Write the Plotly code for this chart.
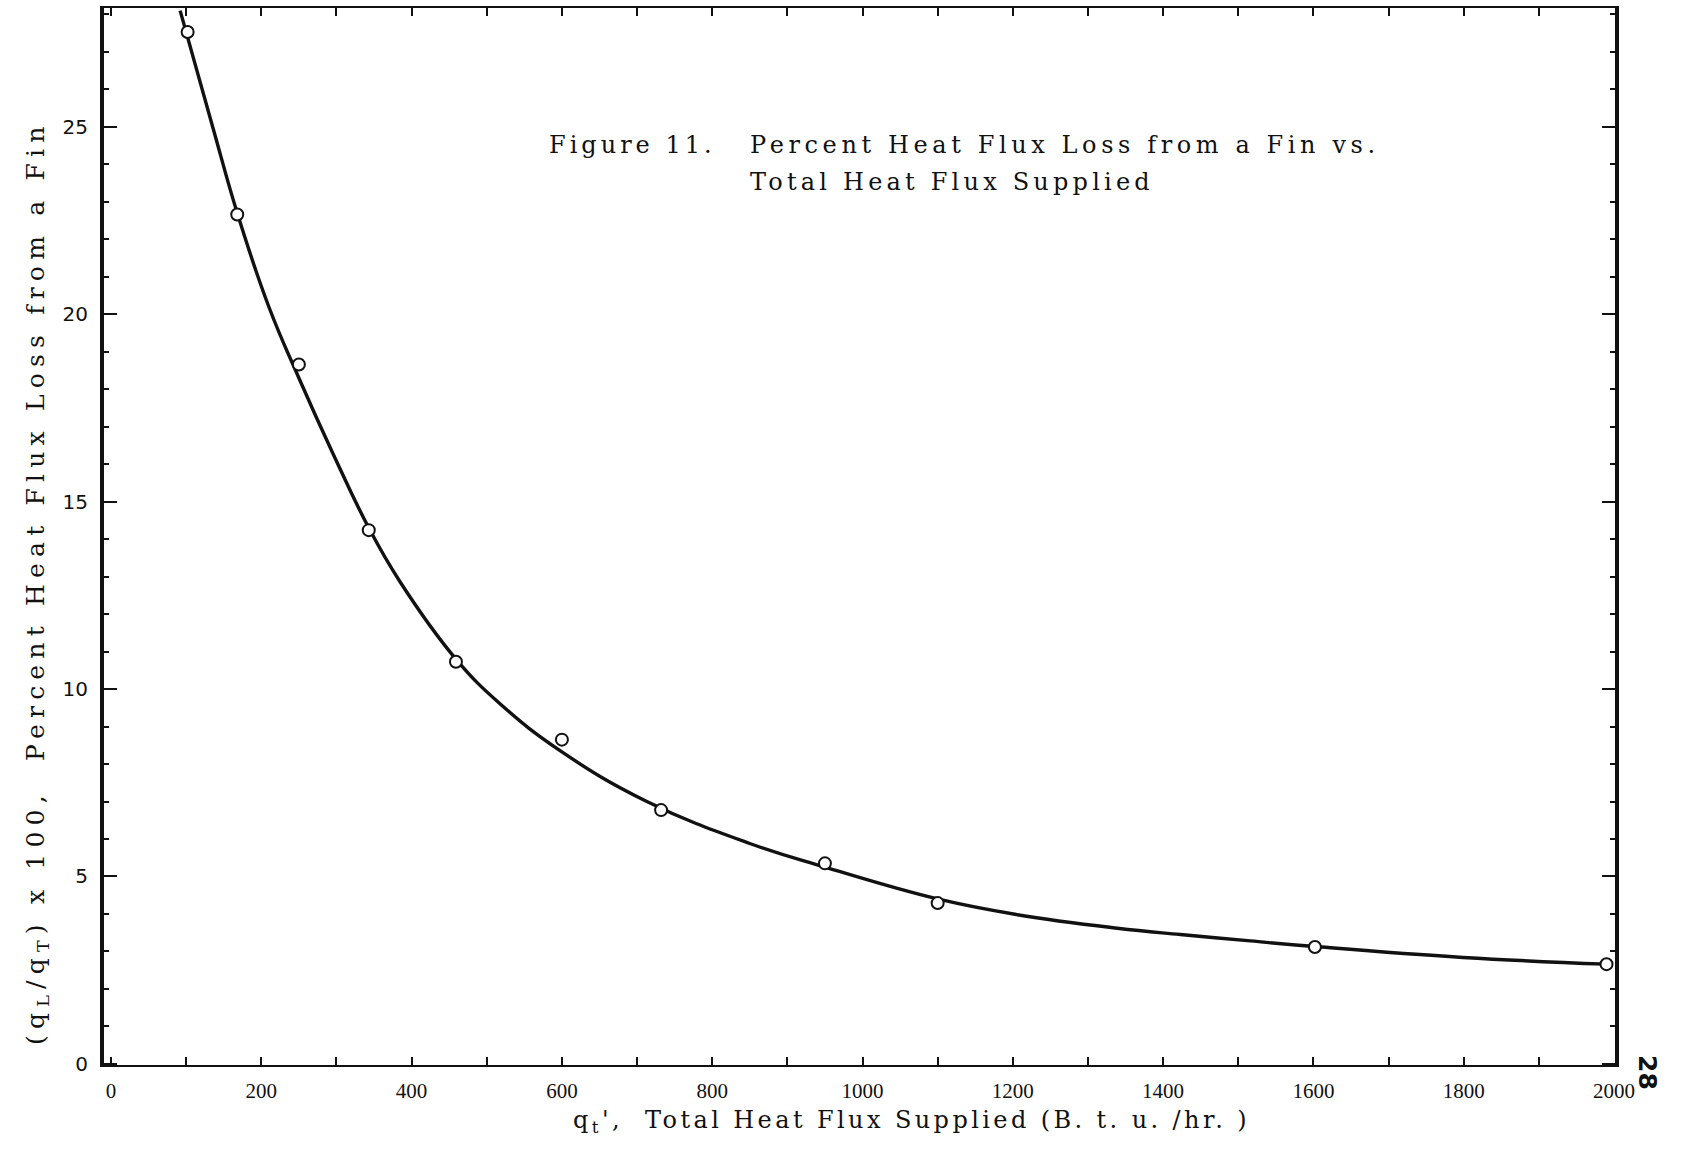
import plotly.graph_objects as go

# Measured data points (open circles)
q_total = [102, 168, 250, 343, 459, 600, 732, 950, 1100, 1602, 1990]
pct_loss = [27.53, 22.66, 18.66, 14.24, 10.73, 8.65, 6.77, 5.35, 4.29, 3.12, 2.66]

# Hand-drawn smooth curve
curve_x = [92, 136, 168, 210, 250, 295, 343, 385, 459, 518, 598, 713, 850, 950,
           1100, 1206, 1339, 1423, 1516, 1602, 1799, 1990]
curve_y = [28.1, 24.95, 22.7, 20.2, 18.3, 16.3, 14.3, 12.85, 10.8, 9.6, 8.35, 7.0,
           5.88, 5.25, 4.4, 3.98, 3.62, 3.45, 3.28, 3.13, 2.84, 2.66]

x_ticks = [0, 200, 400, 600, 800, 1000, 1200, 1400, 1600, 1800, 2000]
y_ticks = [0, 5, 10, 15, 20, 25]

W, H = 1682, 1156
ML, MR, MT, MB = 104, 67, 6, 91
PW, PH = W - ML - MR, H - MT - MB

def px(x):
    return (x - ML) / PW

def py(y):
    return 1 - (y - MT) / PH

fig = go.Figure()
fig.add_trace(go.Scatter(x=curve_x, y=curve_y, mode="lines",
                         line=dict(color="#111", width=3.4, shape="spline", smoothing=1.2),
                         hoverinfo="skip"))
fig.add_trace(go.Scatter(x=q_total, y=pct_loss, mode="markers",
                         marker=dict(symbol="circle", size=12, color="white",
                                     line=dict(color="#111", width=2))))

serif = "DejaVu Serif"

fig.update_layout(
    width=W, height=H,
    margin=dict(l=ML, r=MR, t=MT, b=MB),
    paper_bgcolor="white", plot_bgcolor="white",
    showlegend=False,
    xaxis=dict(range=[-9.3, 2001.3], tickvals=x_ticks, ticktext=[str(v) for v in x_ticks],
               ticks="inside", ticklen=8, tickwidth=2, tickcolor="#111",
               minor=dict(dtick=100, tick0=0, ticks="inside", ticklen=8, tickwidth=2, tickcolor="#111"),
               showline=True, linewidth=2, linecolor="#111", mirror="ticks",
               showgrid=False, zeroline=False,
               tickfont=dict(family="Liberation Serif", size=21, color="#111"),
               ticklabelstandoff=6),
    yaxis=dict(range=[-0.03, 28.17], tickvals=y_ticks, ticktext=[str(v) for v in y_ticks],
               ticks="inside", ticklen=13, tickwidth=2, tickcolor="#111",
               minor=dict(dtick=1, tick0=0, ticks="inside", ticklen=5, tickwidth=2, tickcolor="#111"),
               showline=True, linewidth=4, linecolor="#111", mirror="ticks",
               showgrid=False, zeroline=False,
               tickfont=dict(family="DejaVu Sans", size=20, color="#111"),
               ticklabelstandoff=8),
)

def spaced(text, ls):
    return f'<span style="letter-spacing:{ls}px">{text}</span>'

cap_font = dict(family=serif, size=24, color="#111")
fig.add_annotation(text=spaced("Figure 11.", 4), xref="paper", yref="paper",
                   x=px(547), y=py(143), xanchor="left", yanchor="middle",
                   showarrow=False, font=cap_font)
fig.add_annotation(text=spaced("Percent Heat Flux Loss from a Fin vs.", 4.6),
                   xref="paper", yref="paper",
                   x=px(748), y=py(143), xanchor="left", yanchor="middle",
                   showarrow=False, font=cap_font)
fig.add_annotation(text=spaced("Total Heat Flux Supplied", 4.2), xref="paper", yref="paper",
                   x=px(748), y=py(180), xanchor="left", yanchor="middle",
                   showarrow=False, font=cap_font)

# Axis titles
fig.add_annotation(text=spaced("q<sub>t</sub>',  Total Heat Flux Supplied (B. t. u. /hr. )", 3.4),
                   xref="paper", yref="paper",
                   x=px(912), y=py(1122), xanchor="center", yanchor="middle",
                   showarrow=False, font=dict(family=serif, size=24, color="#111"))
fig.add_annotation(text=spaced("(q<sub>L</sub>/q<sub>T</sub>) x 100,  Percent Heat Flux Loss from a Fin", 6.2),
                   xref="paper", yref="paper",
                   x=px(37), y=py(582), xanchor="center", yanchor="middle",
                   textangle=-90, showarrow=False,
                   font=dict(family=serif, size=25, color="#111"))

# Page number
fig.add_annotation(text="28", xref="paper", yref="paper",
                   x=px(1647), y=py(1072), xanchor="center", yanchor="middle",
                   textangle=90, showarrow=False,
                   font=dict(family="DejaVu Sans", size=25, color="#111", weight="bold"))

fig.write_html("out.html")
